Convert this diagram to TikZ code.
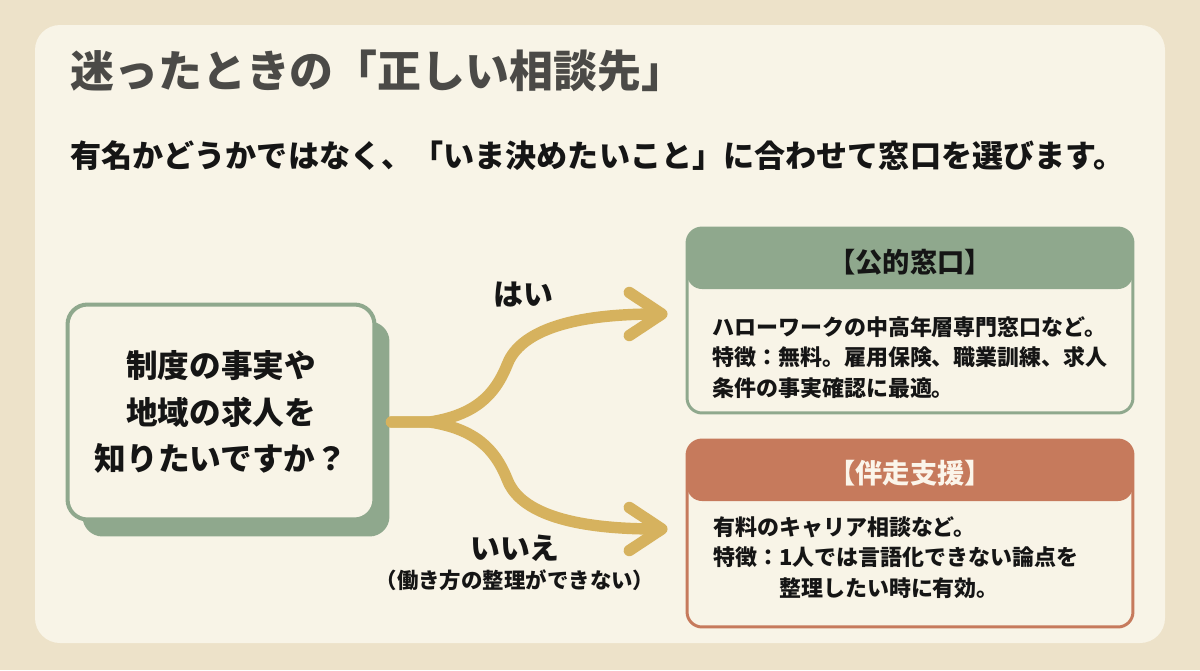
\documentclass[tikz,border=0pt]{standalone}
\usepackage{fontspec}
\setmainfont{Noto Sans CJK JP}
\usepackage{xcolor}
\usepackage{tikz}
\usetikzlibrary{arrows.meta,positioning,shadows}
\definecolor{guideBg}{HTML}{EDE2C9}
\definecolor{guidePanel}{HTML}{F8F4E7}
\definecolor{guideTitle}{HTML}{4B4A47}
\definecolor{guideInk}{HTML}{151515}
\definecolor{guideSage}{HTML}{8FA88D}
\definecolor{guideClay}{HTML}{C67A5C}
\definecolor{guideGold}{HTML}{D6B25E}
\definecolor{guideLight}{HTML}{FBF5EA}
\tikzset{
  question/.style={
    rectangle,
    rounded corners=0.4cm,
    draw=guideSage,
    line width=2.3pt,
    fill=guidePanel,
    align=center,
    text=guideInk,
    font=\fontsize{18}{26.5}\selectfont\bfseries,
    minimum width=6.14cm,
    minimum height=4.3cm,
    drop shadow={shadow xshift=0.3cm, shadow yshift=-0.34cm, fill=guideSage, opacity=1}
  },
  card/.style={
    rectangle,
    rounded corners=0.3cm,
    line width=1.7pt,
    fill=guidePanel,
    inner sep=0pt,
    minimum width=8.92cm
  },
  pubcard/.style={card, draw=guideSage, minimum height=3.7cm,
    path picture={\fill[guideSage] (path picture bounding box.north west) rectangle ([yshift=-1.22cm]path picture bounding box.north east);}},
  supcard/.style={card, draw=guideClay, minimum height=3.74cm,
    path picture={\fill[guideClay] (path picture bounding box.north west) rectangle ([yshift=-1.22cm]path picture bounding box.north east);}},
  head/.style={inner sep=0pt, font=\fontsize{15.5}{18}\selectfont\bfseries},
  body/.style={inner sep=0pt, align=left, text=guideInk, font=\fontsize{12.5}{17.5}\selectfont\bfseries},
  answer/.style={inner sep=0pt, text=guideInk, font=\fontsize{17}{20}\selectfont\bfseries},
  flow/.style={draw=guideGold, line width=6.5pt, line cap=round,
    -{Straight Barb[length=6.5mm, width=8.6mm, round]}}
}

\begin{document}
\begin{tikzpicture}[x=0.02cm, y=-0.02cm]
  \useasboundingbox (0,0) rectangle (1200,670);
  \fill[guideBg] (0,0) rectangle (1200,670);
  \fill[guidePanel, rounded corners=0.5cm] (35,25) rectangle (1165,643);

  \node[anchor=west, inner sep=0pt, text=guideTitle, font=\fontsize{25}{28}\selectfont\bfseries] (title) at (70,71) {迷ったときの「正しい相談先」};
  \node[anchor=west, inner sep=0pt, text=guideInk, font=\fontsize{17.7}{20}\selectfont\bfseries] (subtitle) at (70,156) {有名かどうかではなく、「いま決めたいこと」に合わせて窓口を選びます。};

  \node[question] (question) at (221,412) {制度の事実や\\地域の求人を\\知りたいですか？};

  \node[pubcard] (pubCard) at (910,320.5) {};
  \node[head, text=guideInk] (pubHead) at (910,262) {【公的窓口】};
  \node[body, anchor=north west] (pubBody) at (712,316) {ハローワークの中高年層専門窓口など。\\特徴：無料。雇用保険、職業訓練、求人\\条件の事実確認に最適。};

  \node[supcard] (supCard) at (910,533.5) {};
  \node[head, text=guideLight] (supHead) at (910,473) {【伴走支援】};
  \node[body, anchor=north west] (supBody) at (713,516) {有料のキャリア相談など。\\特徴：1人では言語化できない論点を\\\hspace*{3em}整理したい時に有効。};

  \coordinate (fork) at (430,422);
  \draw[flow] ([xshift=0.3cm, yshift=-0.2cm]question.east) -- (fork)
    .. controls (475,415) and (495,395) .. (507,365)
    .. controls (517,338) and (555,314) .. ([xshift=-0.36cm, yshift=0.13cm]pubCard.west);
  \draw[flow] ([xshift=0.3cm, yshift=-0.2cm]question.east) -- (fork)
    .. controls (475,429) and (495,449) .. (507,479)
    .. controls (517,506) and (555,529) .. ([xshift=-0.36cm, yshift=0.09cm]supCard.west);

  \node[answer] (yesLabel) at (523,295) {はい};
  \node[answer] (noLabel) at (515,548) {いいえ};
  \node[inner sep=0pt, text=guideInk, font=\fontsize{12.2}{14}\selectfont\bfseries] (noNote) at (515,580) {（働き方の整理ができない）};
\end{tikzpicture}
\end{document}
